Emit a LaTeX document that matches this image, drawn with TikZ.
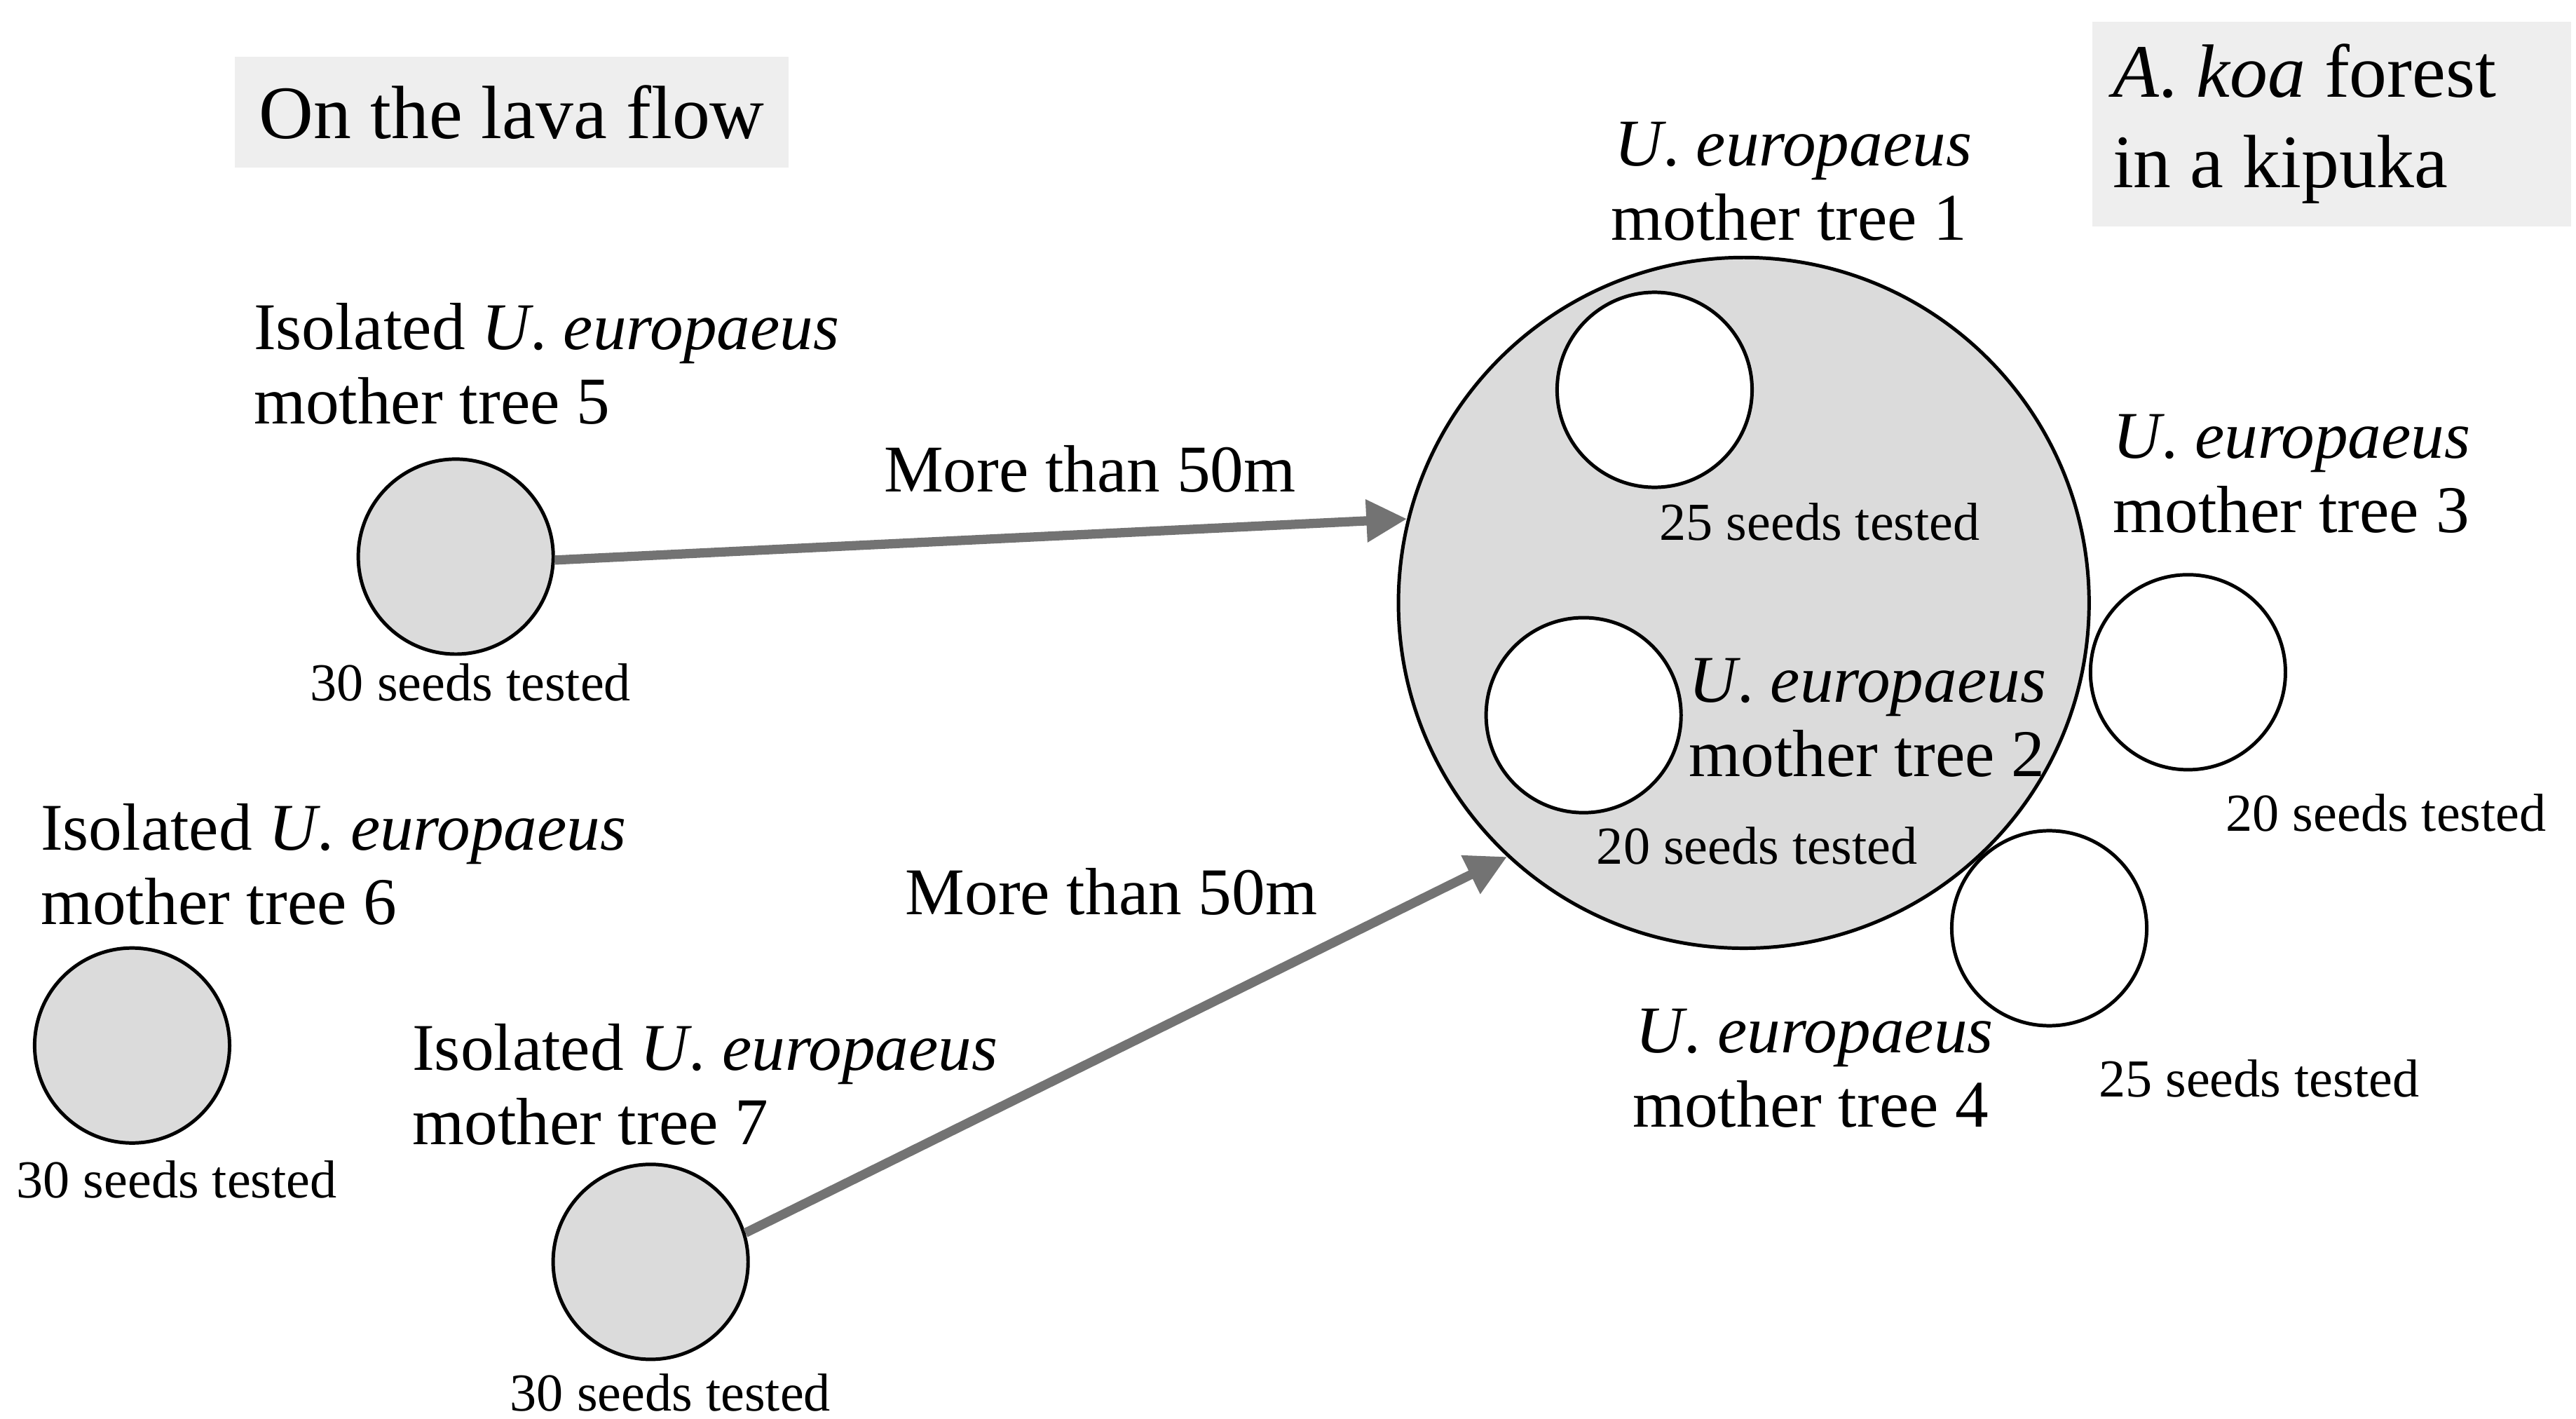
\documentclass[tikz,border=0pt]{standalone}
\usepackage{fontspec}
\setmainfont{Liberation Serif}
\usetikzlibrary{arrows.meta}
\begin{document}
\begin{tikzpicture}[x=0.01cm,y=-0.01cm,
  tree/.style={circle,draw=black,line width=0.6pt,minimum size=1.18cm,inner sep=0pt},
  gtree/.style={tree,fill=gray!28},
  wtree/.style={tree,fill=white},
  lbl/.style={font=\fontsize{11.5}{12.8}\selectfont,align=left,inner sep=0pt,anchor=north west},
  seeds/.style={font=\fontsize{9.2}{11}\selectfont,inner sep=0pt},
  box/.style={fill=gray!13,inner sep=0pt,font=\fontsize{13}{15.5}\selectfont,align=left},
  arr/.style={color=black!55,line width=1.6pt,-{Triangle[length=7pt,width=7pt]}}]
\useasboundingbox (0,0) rectangle (1560,859);
% boxes
\node[box,minimum width=3.35cm,minimum height=0.67cm] (lava) at (310,68) {On the lava flow};
\node[box,minimum width=2.9cm,minimum height=1.24cm,text width=2.65cm,align=flush left] (koa) at (1412,75) {\textit{A}. \textit{koa} forest\\in a kipuka};
% big circle
\node[circle,draw=black,line width=0.6pt,fill=gray!28,minimum size=4.18cm,inner sep=0pt] (big) at (1056,365) {};
% trees
\node[gtree] (t5) at (276,337) {};
\node[gtree] (t6) at (80,633) {};
\node[gtree] (t7) at (394,764) {};
\node[wtree] (t1) at (1002,236) {};
\node[wtree] (t2) at (959,433) {};
\node[wtree] (t3) at (1325,407) {};
\node[wtree] (t4) at (1241,562) {};
% labels
\node[lbl] (l5) at (153,183) {Isolated \textit{U}. \textit{europaeus}\\mother tree 5};
\node[lbl] (l6) at (24,486) {Isolated \textit{U}. \textit{europaeus}\\mother tree 6};
\node[lbl] (l7) at (249,619) {Isolated \textit{U}. \textit{europaeus}\\mother tree 7};
\node[lbl] (l1) at (975,73) {\hspace*{0.02cm}\textit{U}. \textit{europaeus}\\mother tree 1};
\node[lbl] (l2) at (1022,398) {\textit{U}. \textit{europaeus}\\mother tree 2};
\node[lbl] (l3) at (1279,250) {\textit{U}. \textit{europaeus}\\mother tree 3};
\node[lbl] (l4) at (988,610) {\hspace*{0.02cm}\textit{U}. \textit{europaeus}\\mother tree 4};
% seeds
\node[seeds] (s5) at (285,413) {30 seeds tested};
\node[seeds] (s6) at (107,714) {30 seeds tested};
\node[seeds] (s7) at (406,843) {30 seeds tested};
\node[seeds] (s1) at (1102,316) {25 seeds tested};
\node[seeds] (s2) at (1064,512) {20 seeds tested};
\node[seeds] (s3) at (1445,492) {20 seeds tested};
\node[seeds] (s4) at (1368,653) {25 seeds tested};
% arrows
\draw[arr] (t5.-2) -- (big.166);
\draw[arr] (t7.17) -- (big.227);
\node[font=\fontsize{11.5}{13}\selectfont,inner sep=0pt] (m1) at (660,284) {More than 50m};
\node[font=\fontsize{11.5}{13}\selectfont,inner sep=0pt] (m2) at (673,540) {More than 50m};
\end{tikzpicture}
\end{document}
